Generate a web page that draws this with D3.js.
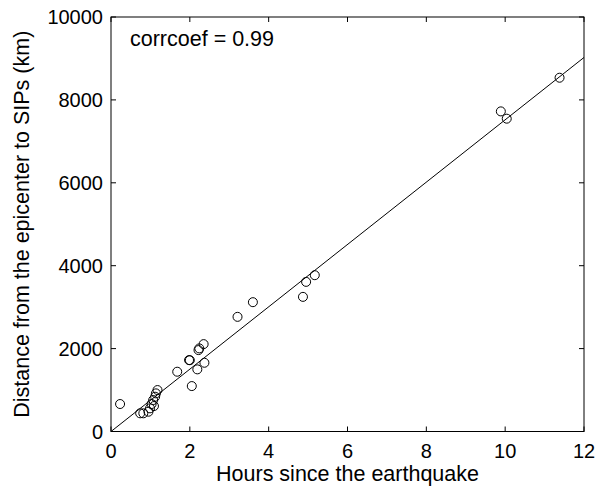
<!DOCTYPE html>
<html><head><meta charset="utf-8">
<script src="https://cdn.jsdelivr.net/npm/d3@7"></script>
<style>body{margin:0;background:#fff}svg{display:block}text{font-family:"Liberation Sans",Arial,Helvetica,sans-serif;fill:#000}</style>
</head><body>
<script>
const hours = [0.23,0.74,0.82,0.95,0.99,1.03,1.07,1.09,1.12,1.14,1.18,1.68,1.98,2.0,2.05,2.19,2.22,2.24,2.35,2.37,3.21,3.6,4.87,4.95,5.17,9.89,10.04,11.38];
const dists = [663,439,439,477,559,663,759,614,839,920,1000,1442,1723,1720,1096,1499,1964,2005,2108,1658,2766,3120,3248,3610,3771,7723,7547,8535];
const fitSlope = 752;
const xTicks = [0,2,4,6,8,10,12];
const yTicks = [0,2000,4000,6000,8000,10000];
const xLabel = "Hours since the earthquake";
const yLabel = "Distance from the epicenter to SIPs (km)";
const annotation = "corrcoef = 0.99";

const W=597,H=490, L=111, R=584, T=17, B=431.5;
const svg=d3.select("body").append("svg").attr("width",W).attr("height",H);
const x=d3.scaleLinear().domain([0,12]).range([L,R]);
const y=d3.scaleLinear().domain([0,10000]).range([B,T]);

const tl=5;
const g=svg.append("g").attr("stroke","#000").attr("stroke-width",1);
xTicks.forEach(t=>{
  g.append("line").attr("x1",x(t)).attr("x2",x(t)).attr("y1",B).attr("y2",B-tl);
  g.append("line").attr("x1",x(t)).attr("x2",x(t)).attr("y1",T).attr("y2",T+tl);
});
yTicks.forEach(t=>{
  g.append("line").attr("x1",L).attr("x2",L+tl).attr("y1",y(t)).attr("y2",y(t));
  g.append("line").attr("x1",R).attr("x2",R-tl).attr("y1",y(t)).attr("y2",y(t));
});
svg.append("rect").attr("x",L).attr("y",T).attr("width",R-L).attr("height",B-T)
  .attr("fill","none").attr("stroke","#000").attr("stroke-width",1);

svg.selectAll(".xt").data(xTicks).enter().append("text")
  .attr("x",d=>x(d)).attr("y",458).attr("text-anchor","middle").attr("font-size",20).text(d=>d);
svg.selectAll(".yt").data(yTicks).enter().append("text")
  .attr("x",103).attr("y",d=>y(d)+7).attr("text-anchor","end").attr("font-size",20).text(d=>d);

svg.append("text").attr("x",(L+R)/2).attr("y",481).attr("text-anchor","middle").attr("font-size",21.5).text(xLabel);
svg.append("text").attr("transform",`translate(29,${(T+B)/2}) rotate(-90)`).attr("text-anchor","middle").attr("font-size",21.5).text(yLabel);

svg.append("clipPath").attr("id","c").append("rect").attr("x",L).attr("y",T).attr("width",R-L).attr("height",B-T);
svg.append("line").attr("clip-path","url(#c)")
  .attr("x1",x(0)).attr("y1",y(0)).attr("x2",x(12)).attr("y2",y(12*fitSlope))
  .attr("stroke","#000").attr("stroke-width",1);

svg.selectAll(".pt").data(hours).enter().append("circle")
  .attr("cx",d=>x(d)).attr("cy",(d,i)=>y(dists[i])).attr("r",4.5)
  .attr("fill","none").attr("stroke","#000").attr("stroke-width",1);

svg.append("text").attr("x",130).attr("y",46).attr("font-size",21.5).text(annotation);
</script>
</body></html>
